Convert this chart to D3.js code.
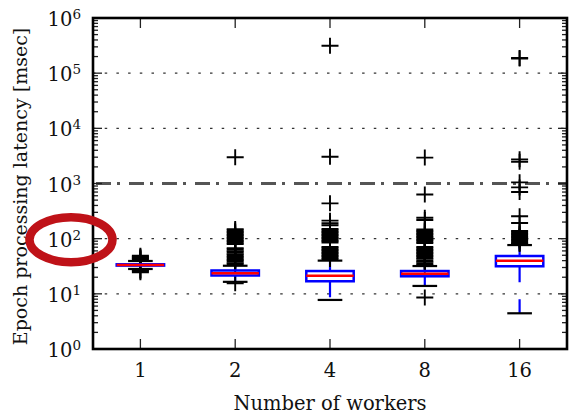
<!DOCTYPE html>
<html><head><meta charset="utf-8">
<script src="https://cdn.jsdelivr.net/npm/d3@7"></script>
<style>body{margin:0;background:#fff} svg{display:block}</style>
</head><body>
<svg id="chart" width="576" height="419"></svg>
<script>
// ---- data ----
const workers = ["1", "2", "4", "8", "16"];
const q1 = [32.5, 21.5, 16.9, 20.8, 31.6];
const medians = [33.3, 23.6, 21.3, 23.2, 39.8];
const q3 = [34.3, 26.5, 25.9, 25.9, 48.5];
const whiskerLow = [28.2, 16.5, 7.75, 13.9, 4.44];
const whiskerHigh = [39.4, 32.3, 40, 31.9, 76.6];
const fliers1 = [49, 47, 45, 43.5, 42, 27, 25.8, 24.5];
const fliers2 = [2985, 149, 141, 132, 124, 116.5, 109.5, 103, 96.5, 90.5, 85, 80,
  67.5, 63.5, 59.5, 56, 52.5, 49.5, 46.5, 43.5, 41, 38.5, 36, 34, 15.6];
const fliers4 = [314000, 3060, 437, 212, 190, 175, 150, 140.5, 132, 124, 116.5, 109.5,
  103, 96.5, 90.5, 85, 70.5, 66.5, 62.5, 58.5, 55, 51.5, 48.5, 45.5, 42.8];
const fliers8 = [2950, 630, 240, 218, 146.5, 137.5, 129.5, 121.5, 114, 107, 100.5, 94.5,
  89, 83.5, 70.5, 66.5, 62.5, 58.5, 55, 51.5, 48.5, 45.5, 43, 40, 38, 35.5, 33.5, 8.6];
const fliers16 = [188000, 184000, 2740, 2480, 1050, 850, 700, 255, 192, 137.5, 129.5,
  121.5, 114, 107, 100.5, 94.5, 89, 83.5, 80];
const fliers = [fliers1, fliers2, fliers4, fliers8, fliers16];
const yExponents = [0, 1, 2, 3, 4, 5, 6];
const referenceLine = 1000;
const highlightedTick = 100;
const xTitle = "Number of workers";
const yTitle = "Epoch processing latency [msec]";

// ---- layout ----
const svg = d3.select("#chart");
const L = 93, R = 567, T = 18, B = 349;
const font = "'DejaVu Serif', serif";
const x = d3.scaleBand().domain(workers).range([L, R]).padding(0);
const y = d3.scaleLog().domain([1, 1e6]).range([B, T]);
const cx = d => x(d) + x.bandwidth() / 2;
const boxW = x.bandwidth() * 0.5, capW = x.bandwidth() * 0.26;

const data = workers.map((w, i) => ({
  w, q1: q1[i], med: medians[i], q3: q3[i], lo: whiskerLow[i], hi: whiskerHigh[i], fl: fliers[i]
}));

// grid (dotted) at majors
const majors = yExponents.map(e => Math.pow(10, e));
svg.append("g").selectAll("line").data(majors.filter(v => v > 1 && v < 1e6 && v !== referenceLine))
  .join("line")
  .attr("x1", L).attr("x2", R).attr("y1", d => y(d)).attr("y2", d => y(d))
  .attr("stroke", "#333").attr("stroke-width", 1.4).attr("stroke-dasharray", "2.5,9.2");

// reference dash-dot line
svg.append("line")
  .attr("x1", L).attr("x2", R).attr("y1", y(referenceLine)).attr("y2", y(referenceLine))
  .attr("stroke", "#555").attr("stroke-width", 3).attr("stroke-dasharray", "15,6,3,9")
  .attr("stroke-dashoffset", -3);

const g = svg.append("g");
// whiskers (blue dashed)
g.selectAll(".wl").data(data).join("line")
  .attr("x1", d => cx(d.w)).attr("x2", d => cx(d.w))
  .attr("y1", d => y(d.q1)).attr("y2", d => y(d.lo))
  .attr("stroke", "#0000ff").attr("stroke-width", 2.2).attr("stroke-dasharray", "16,17");
g.selectAll(".wh").data(data).join("line")
  .attr("x1", d => cx(d.w)).attr("x2", d => cx(d.w))
  .attr("y1", d => y(d.q3)).attr("y2", d => y(d.hi))
  .attr("stroke", "#0000ff").attr("stroke-width", 2.2).attr("stroke-dasharray", "16,17");
// caps
["lo", "hi"].forEach(k => {
  g.selectAll(".cap" + k).data(data).join("line")
    .attr("x1", d => cx(d.w) - capW / 2).attr("x2", d => cx(d.w) + capW / 2)
    .attr("y1", d => y(d[k])).attr("y2", d => y(d[k]))
    .attr("stroke", "#000").attr("stroke-width", 2.2);
});
// fliers
data.forEach(d => {
  g.append("g").selectAll("path").data(d.fl).join("path")
    .attr("transform", v => `translate(${cx(d.w)},${y(v)})`)
    .attr("d", "M-8.5,0H8.5M0,-8V8")
    .attr("stroke", "#000").attr("stroke-width", 1.9).attr("fill", "none");
});
// boxes
g.selectAll(".box").data(data).join("rect")
  .attr("x", d => cx(d.w) - boxW / 2).attr("width", boxW)
  .attr("y", d => y(d.q3)).attr("height", d => y(d.q1) - y(d.q3))
  .attr("fill", "none").attr("stroke", "#0000ff").attr("stroke-width", 2.5);
// medians
g.selectAll(".med").data(data).join("line")
  .attr("x1", d => cx(d.w) - boxW / 2).attr("x2", d => cx(d.w) + boxW / 2)
  .attr("y1", d => y(d.med)).attr("y2", d => y(d.med))
  .attr("stroke", "#ff0000").attr("stroke-width", 2.5);

// ticks
const tickColor = "#222";
const allY = y.ticks().filter(v => v >= 1 && v <= 1e6);
const ax = svg.append("g").attr("stroke", tickColor).attr("stroke-width", 1.3);
allY.forEach(v => {
  const isMajor = majors.includes(v);
  const len = isMajor ? 9 : 5;
  ax.append("line").attr("x1", L).attr("x2", L + len).attr("y1", y(v)).attr("y2", y(v));
  ax.append("line").attr("x1", R).attr("x2", R - len).attr("y1", y(v)).attr("y2", y(v));
});
workers.forEach(w => {
  ax.append("line").attr("x1", cx(w)).attr("x2", cx(w)).attr("y1", B).attr("y2", B - 10);
  ax.append("line").attr("x1", cx(w)).attr("x2", cx(w)).attr("y1", T).attr("y2", T + 10);
});
// spines
svg.append("rect").attr("x", L).attr("y", T).attr("width", R - L).attr("height", B - T)
  .attr("fill", "none").attr("stroke", "#000").attr("stroke-width", 2.6);

// y tick labels
const yl = svg.append("g").attr("font-family", font).attr("fill", "#111");
yExponents.forEach(e => {
  const t = yl.append("text").attr("x", 81).attr("y", y(Math.pow(10, e)) + 8)
    .attr("text-anchor", "end").attr("font-size", 19.5);
  t.append("tspan").text("10");
  t.append("tspan").attr("dy", -7).attr("font-size", 13.5).text(e);
});
// x tick labels
svg.append("g").selectAll("text").data(workers).join("text")
  .attr("x", d => cx(d)).attr("y", 377).attr("text-anchor", "middle")
  .attr("font-family", font).attr("font-size", 19.5).attr("fill", "#111").text(d => d);
// titles
svg.append("text").attr("x", (L + R) / 2).attr("y", 410).attr("text-anchor", "middle")
  .attr("font-family", font).attr("font-size", 19.5).attr("fill", "#111").text(xTitle);
svg.append("text").attr("transform", `translate(27,${(T + B) / 2 + 3}) rotate(-90)`)
  .attr("text-anchor", "middle").attr("font-family", font).attr("font-size", 19)
  .attr("fill", "#111").text(yTitle);

// red highlight ellipse around the 10^2 label
svg.append("ellipse").attr("cx", 71).attr("cy", y(highlightedTick) + 1)
  .attr("rx", 41.5).attr("ry", 22.5)
  .attr("fill", "none").attr("stroke", "#bf1218").attr("stroke-width", 8.5);
</script>
</body></html>
